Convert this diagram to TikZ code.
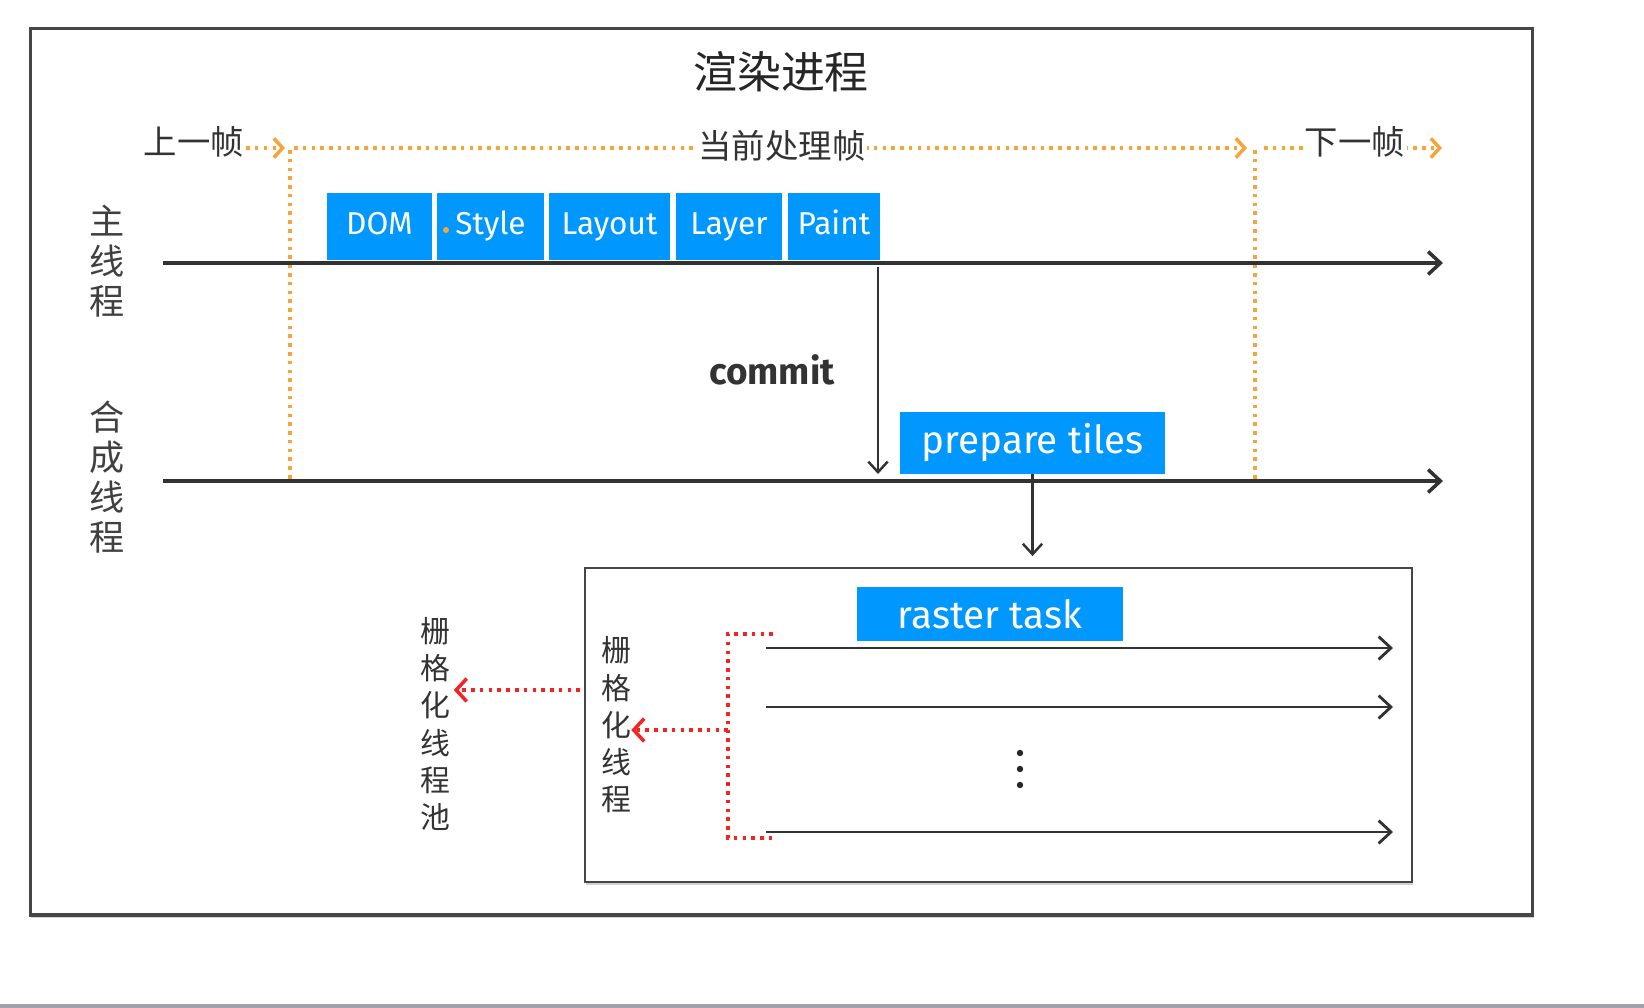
\documentclass[tikz,border=0pt]{standalone}
\usepackage{fontspec}
\setmainfont{Fira Sans}
\newfontfamily\cjk{Noto Sans CJK SC}
\usetikzlibrary{arrows.meta,shadows}
\definecolor{tblue}{RGB}{0,152,255}
\definecolor{torange}{RGB}{246,165,60}
\definecolor{tred}{RGB}{245,35,35}
\definecolor{tline}{RGB}{50,50,50}
\definecolor{tframe}{RGB}{70,70,70}
\begin{document}
\begin{tikzpicture}[x=0.02cm,y=-0.02cm,
  thread/.style={draw=tline, line width=2pt, -{Straight Barb[length=7pt,width=13pt,line width=2pt]}},
  rthr/.style={draw=tline, line width=1.6pt, -{Straight Barb[length=7pt,width=13pt,line width=1.6pt]}},
  down/.style={draw=tline, line width=1.4pt, -{Straight Barb[length=6pt,width=11pt,line width=1.4pt]}},
  odot/.style={draw=torange, line width=2pt, dash pattern=on 2pt off 3pt},
  oarrow/.style={odot, -{Straight Barb[length=5pt,width=11pt,line width=2pt]}},
  rdot/.style={draw=tred, line width=2pt, dash pattern=on 2pt off 3pt},
  rarrow/.style={rdot, -{Straight Barb[length=6pt,width=13pt,line width=2pt]}},
  bbox/.style={fill=tblue, text=white, inner sep=0pt, minimum height=1.34cm,
    text height=13pt, text depth=4pt, font=\fontsize{18}{20}\selectfont},
  wbox/.style={fill=tblue, text=white, inner sep=0pt, font=\fontsize{22}{24}\selectfont},
  cjklbl/.style={font=\cjk\fontsize{19}{21}\selectfont, text=black!80, inner sep=1pt},
  vlbl/.style={font=\cjk\fontsize{20}{22.7}\selectfont, text=black!75, align=center, inner sep=0pt},
  vlbls/.style={font=\cjk\fontsize{17}{21.2}\selectfont, text=black!80, align=center, inner sep=0pt},
  frame/.style={draw=tframe, line width=1.8pt, fill=white, inner sep=0pt,
    drop shadow={shadow xshift=0.6pt, shadow yshift=-1.8pt, opacity=0.35}}
]
\useasboundingbox (0,0) rectangle (1644,1008);
\fill[white] (0,0) rectangle (1644,1008);
\fill[black!30!blue!10!white!70!black] (0,1004) rectangle (1644,1008);

% outer frame
\node[frame, minimum width=30.06cm, minimum height=17.74cm] (outer) at (781.5,471.5) {};
\node[font=\cjk\fontsize{25}{27}\selectfont, text=black!85] (title) at (781,72) {渲染进程};

% frame markers
\coordinate (f1top) at (290,150);
\coordinate (f1bot) at (290,480);
\coordinate (f2top) at (1255,150);
\coordinate (f2bot) at (1255,480);
\draw[odot] (f1top) -- (f1bot);
\draw[odot] (f2top) -- (f2bot);

\node[cjklbl] (prev) at (194,142) {上一帧};
\coordinate (prevEnd) at (285,148);
\draw[oarrow] (prev.east |- prevEnd) -- (prevEnd);

\coordinate (curStart) at (294,148);
\coordinate (curEnd) at (1247,148);
\draw[oarrow] (curStart) -- (curEnd);
\node[cjklbl, fill=white] (cur) at (782,146) {当前处理帧};

\coordinate (nextStart) at (1264,148);
\coordinate (nextEnd) at (1442,148);
\draw[oarrow] (nextStart) -- (nextEnd);
\node[cjklbl, fill=white] (next) at (1355,142) {下一帧};

% main thread
\node[vlbl] (mainLbl) at (107,261) {主\\线\\程};
\coordinate (mainStart) at (163,263);
\coordinate (mainEnd) at (1443,263);
\draw[thread] (mainStart) -- (mainEnd);

\node[bbox, minimum width=2.10cm] (dom) at (379.5,226.5) {DOM};
\node[bbox, minimum width=2.14cm] (style) at (490.5,226.5) {Style};
\node[bbox, minimum width=2.42cm] (layout) at (609.5,226.5) {Layout};
\node[bbox, minimum width=2.12cm] (layer) at (729,226.5) {Layer};
\node[bbox, minimum width=1.84cm] (paint) at (834,226.5) {Paint};
\fill[torange] (446,230) circle (3);

% commit
\coordinate (commitTop) at (878,267);
\coordinate (commitEnd) at (878,474);
\draw[down] (commitTop) -- (commitEnd);
\node[font=\fontsize{21}{24}\selectfont\bfseries, text=black!80] (commit) at (772,370) {commit};

% compositor thread
\node[vlbl] (compLbl) at (107,477) {合\\成\\线\\程};
\coordinate (compStart) at (163,481);
\coordinate (compEnd) at (1443,481);
\draw[thread] (compStart) -- (compEnd);

\node[wbox, minimum width=5.3cm, minimum height=1.24cm] (prep) at (1032.5,443) {\raisebox{-3pt}{prepare tiles}};

% raster pool box
\node[frame, line width=1.6pt, minimum width=16.54cm, minimum height=6.28cm] (pool) at (998.5,725) {};
\draw[down] (prep.south) -- ([yshift=6pt]prep.south |- pool.north);

\node[wbox, minimum width=5.32cm, minimum height=1.08cm] (raster) at (990,614) {\raisebox{-6pt}{raster task}};

\coordinate (r1a) at (766,648); \coordinate (r1b) at (1393,648);
\coordinate (r2a) at (766,707); \coordinate (r2b) at (1393,707);
\coordinate (r3a) at (766,832); \coordinate (r3b) at (1393,832);
\draw[rthr] (r1a) -- (r1b);
\draw[rthr] (r2a) -- (r2b);
\draw[rthr] (r3a) -- (r3b);
\foreach \yy in {753,769,785} \fill[black!85] (1020,\yy) circle (3.2);

% red bracket
\coordinate (bTop) at (773,634);
\coordinate (bTL) at (728,634);
\coordinate (bBL) at (728,838);
\coordinate (bBot) at (773,838);
\coordinate (bMid) at (728,730);
\draw[rdot] (bTop) -- (bTL) -- (bBL) -- (bBot);

\node[vlbls] (rthread) at (616,725) {栅\\格\\化\\线\\程};
\draw[rarrow] (bMid) -- (bMid -| rthread.east);

\node[vlbls] (rpool) at (435,724) {栅\\格\\化\\线\\程\\池};
\coordinate (poolOut) at (580,690);
\draw[rarrow] (poolOut) -- ([xshift=2pt]poolOut -| rpool.east);
\end{tikzpicture}
\end{document}
